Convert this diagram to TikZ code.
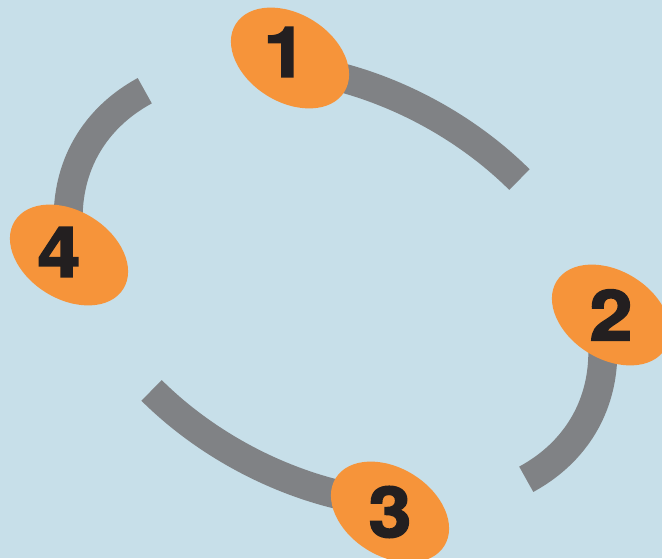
\documentclass[tikz,border=0pt]{standalone}
\usepackage{fontspec}
\newfontfamily\numfont{texgyreheros-bold.otf}[FakeBold=2.5, FakeStretch=1.1]
\usetikzlibrary{shapes.geometric}

\definecolor{poolblue}{RGB}{199,223,233}
\definecolor{ringgray}{RGB}{128,130,133}
\definecolor{tagorange}{RGB}{246,148,58}
\definecolor{digitblack}{RGB}{35,31,32}

\begin{document}
\begin{tikzpicture}[x=1pt, y=1pt,
  ringarc/.style={draw=ringgray, line width=29pt},
  tag/.style={ellipse, fill=tagorange, minimum width=128pt, minimum height=88pt, inner sep=0pt, rotate=-32},
  digit/.style={font=\numfont\fontsize{70}{84}\selectfont, text=digitblack, inner sep=0pt}]
  % Background
  \fill[poolblue] (0,0) rectangle (662,558);
  \useasboundingbox (0,0) rectangle (662,558);
  % Ring of four arcs
  \begin{scope}[shift={(335.5,273)}, rotate=-28.5]
    \coordinate (end1) at (67:285pt and 196pt);
    \coordinate (end2) at (-24:285pt and 196pt);
    \coordinate (end3) at (247:285pt and 196pt);
    \coordinate (end4) at (156:285pt and 196pt);
    \draw[ringarc] (end1) arc[start angle=67, end angle=120, x radius=285pt, y radius=196pt];
    \draw[ringarc] (end2) arc[start angle=-24, end angle=31, x radius=285pt, y radius=196pt];
    \draw[ringarc] (end3) arc[start angle=247, end angle=302, x radius=285pt, y radius=196pt];
    \draw[ringarc] (end4) arc[start angle=156, end angle=210, x radius=285pt, y radius=196pt];
  \end{scope}
  % Tags
  \node[tag] (e1) at (290,500) {};
  \node[tag] (e2) at (611,243) {};
  \node[tag] (e3) at (390,46) {};
  \node[tag] (e4) at (69,303) {};
  \node[digit, xshift=-5pt, yshift=6pt] (n1) at (e1) {1};
  \node[digit] (n2) at (e2) {2};
  \node[digit] (n3) at (e3) {3};
  \node[digit, xshift=-10pt, yshift=3pt] (n4) at (e4) {4};
\end{tikzpicture}
\end{document}
